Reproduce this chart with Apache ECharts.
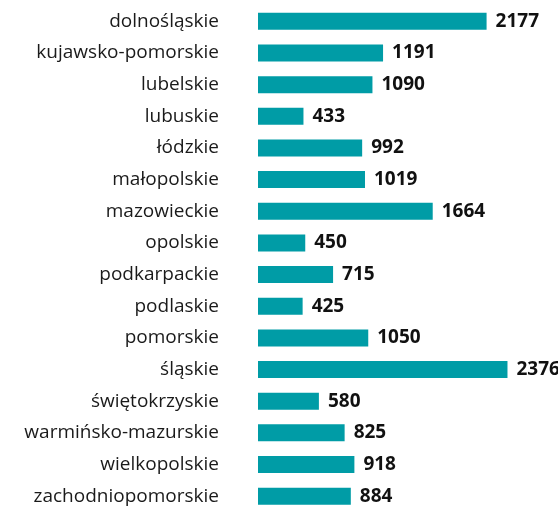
<!DOCTYPE html>
<html>
<head>
<meta charset="utf-8">
<script src="https://cdn.jsdelivr.net/npm/echarts@6/dist/echarts.min.js"></script>
<style>
html, body { margin: 0; padding: 0; background: #fff; }
#chart { width: 558px; height: 512px; }
</style>
</head>
<body>
<div id="chart"></div>
<script>
var regions = ['dolnośląskie', 'kujawsko-pomorskie', 'lubelskie', 'lubuskie', 'łódzkie',
    'małopolskie', 'mazowieckie', 'opolskie', 'podkarpackie', 'podlaskie', 'pomorskie',
    'śląskie', 'świętokrzyskie', 'warmińsko-mazurskie', 'wielkopolskie', 'zachodniopomorskie'];
var counts = [2177, 1191, 1090, 433, 992, 1019, 1664, 450, 715, 425, 1050, 2376, 580, 825, 918, 884];

var myChart = echarts.init(document.getElementById('chart'));

myChart.setOption({
    animation: false,
    grid: { left: 258, top: 5.5, width: 294, height: 512 },
    xAxis: {
        type: 'value',
        min: 0,
        max: 2800,
        show: false
    },
    yAxis: {
        type: 'category',
        data: regions,
        inverse: true,
        axisLine: { show: false },
        axisTick: { show: false },
        axisLabel: {
            margin: 39,
            color: '#1a1a1a',
            fontFamily: 'Open Sans',
            fontSize: 19
        }
    },
    series: [{
        type: 'bar',
        data: counts,
        barWidth: 17,
        itemStyle: { color: '#009ca6' },
        label: {
            show: true,
            position: 'right',
            distance: 9,
            color: '#111',
            fontFamily: 'Open Sans',
            fontWeight: 'bold',
            fontSize: 19
        }
    }]
});
</script>
</body>
</html>
